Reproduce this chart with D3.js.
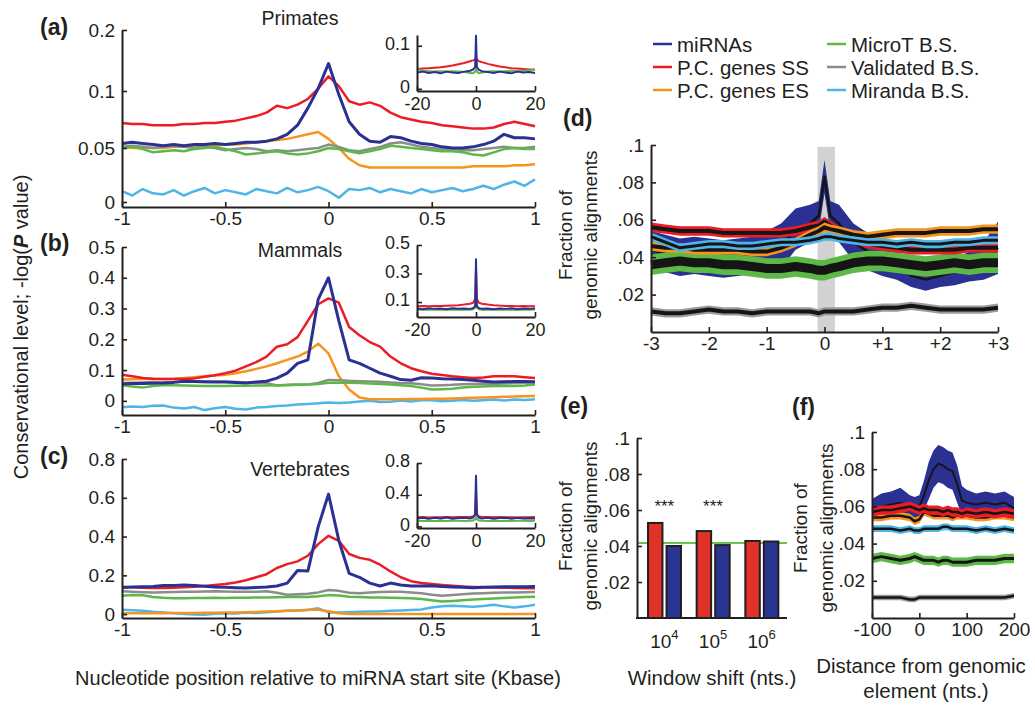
<!DOCTYPE html>
<html>
<head>
<meta charset="utf-8">
<script src="https://cdn.jsdelivr.net/npm/d3@7"></script>
<style>
  body { margin: 0; background: #fff; }
</style>
</head>
<body>
<svg id="chart" width="1035" height="712"></svg>
<script>
var svg = d3.select("#chart");
var FONT = "'Liberation Sans', Arial, Helvetica, sans-serif";
var INK = "#231f20";

// ---------------- data ----------------
var seriesKeys = ["mi", "ss", "es", "mt", "va", "mr"];
var seriesNames = ["miRNAs", "P.C. genes SS", "P.C. genes ES", "MicroT B.S.", "Validated B.S.", "Miranda B.S."];
var colors = { mi: "#2b3192", ss: "#ec1c24", es: "#f7941d", mt: "#5cb946", va: "#8c8c8c", mr: "#4fb4e6" };

// panels a-c: position relative to miRNA start (Kbase)
var posKb = [-1,-0.95,-0.9,-0.85,-0.8,-0.75,-0.7,-0.65,-0.6,-0.55,-0.5,-0.45,-0.4,-0.35,-0.3,-0.25,-0.2,-0.15,-0.1,-0.05,
             0,0.05,0.1,0.15,0.2,0.25,0.3,0.35,0.4,0.45,0.5,0.55,0.6,0.65,0.7,0.75,0.8,0.85,0.9,0.95,1];

// (a) Primates
var primSS = [.072,.071,.071,.070,.070,.070,.071,.071,.072,.072,.073,.074,.076,.078,.081,.087,.085,.088,.093,.104,
              .124,.108,.091,.088,.090,.087,.081,.077,.075,.073,.072,.070,.069,.068,.067,.067,.068,.071,.073,.071,.069];
var primMi = [.054,.055,.054,.053,.052,.053,.052,.053,.053,.054,.053,.054,.055,.055,.056,.058,.062,.070,.085,.104,
              .145,.097,.073,.062,.056,.055,.060,.059,.056,.054,.053,.051,.050,.050,.051,.053,.056,.062,.059,.059,.058];
var primES = [.051,.050,.050,.050,.050,.051,.051,.051,.052,.052,.053,.053,.054,.055,.056,.057,.058,.060,.062,.064,
              .058,.050,.040,.034,.032,.032,.032,.032,.032,.032,.032,.032,.032,.032,.033,.033,.033,.033,.034,.034,.035];
var primVa = [.051,.052,.051,.050,.051,.052,.051,.050,.051,.050,.048,.049,.050,.049,.047,.048,.047,.048,.049,.050,
              .053,.051,.048,.047,.049,.051,.054,.055,.053,.051,.050,.049,.049,.048,.048,.049,.050,.051,.050,.050,.051];
var primMT = [.050,.051,.049,.046,.047,.048,.047,.049,.050,.051,.049,.047,.044,.045,.046,.047,.045,.044,.045,.047,
              .050,.049,.047,.045,.047,.049,.052,.051,.050,.049,.048,.047,.047,.046,.044,.043,.046,.049,.050,.049,.049];
var primMr = [.010,.006,.012,.008,.007,.011,.006,.010,.013,.008,.011,.009,.007,.012,.010,.008,.013,.009,.011,.014,
              .010,.004,.012,.011,.013,.009,.012,.010,.008,.012,.009,.011,.013,.010,.012,.015,.012,.016,.019,.015,.021];

// (b) Mammals
var mammSS = [.085,.080,.074,.072,.071,.071,.071,.073,.078,.083,.090,.098,.112,.126,.144,.176,.184,.207,.260,.314,
              .333,.319,.240,.213,.191,.176,.144,.122,.106,.096,.088,.084,.080,.077,.074,.076,.080,.080,.080,.077,.074];
var mammMi = [.055,.056,.056,.057,.058,.060,.064,.063,.062,.061,.061,.060,.058,.061,.064,.074,.090,.122,.133,.330,
              .400,.260,.133,.122,.106,.090,.080,.069,.067,.075,.074,.072,.071,.069,.067,.064,.061,.062,.063,.063,.062];
var mammES = [.069,.070,.071,.071,.071,.072,.074,.077,.080,.082,.085,.090,.096,.104,.112,.122,.133,.144,.160,.186,
              .154,.080,.037,.011,.005,.005,.005,.005,.006,.006,.007,.007,.008,.009,.010,.011,.012,.013,.014,.015,.016];
var mammVa = [.058,.059,.060,.061,.060,.061,.062,.062,.061,.062,.062,.061,.060,.059,.058,.050,.052,.053,.053,.058,
              .068,.067,.065,.064,.063,.062,.060,.058,.057,.054,.050,.051,.052,.054,.055,.055,.055,.056,.058,.059,.060];
var mammMT = [.051,.047,.043,.048,.051,.051,.050,.049,.048,.048,.048,.049,.049,.050,.050,.051,.051,.052,.053,.055,
              .059,.059,.059,.058,.056,.055,.053,.051,.048,.043,.037,.038,.039,.043,.046,.047,.048,.048,.048,.050,.053];
var mammMr = [-.021,-.018,-.020,-.016,-.015,-.022,-.025,-.020,-.030,-.024,-.020,-.026,-.028,-.022,-.020,-.017,-.015,-.012,-.010,-.008,
              -.005,-.007,-.005,-.002,.000,-.004,-.003,.001,-.002,.002,.002,-.001,.000,.003,.000,.002,.004,.001,.004,.003,.005];

// (c) Vertebrates
var vertSS = [.140,.138,.136,.135,.135,.136,.138,.141,.145,.150,.155,.163,.175,.190,.206,.238,.258,.272,.301,.361,
              .404,.378,.310,.290,.280,.255,.220,.190,.170,.160,.155,.150,.146,.142,.140,.138,.137,.136,.135,.134,.133];
var vertMi = [.137,.140,.141,.143,.147,.148,.150,.148,.144,.140,.138,.136,.135,.137,.140,.145,.160,.225,.222,.450,
              .619,.380,.210,.190,.160,.145,.160,.150,.145,.145,.146,.143,.140,.138,.136,.138,.140,.141,.141,.141,.142];
var vertES = [.005,.005,.005,.005,.005,.006,.006,.006,.007,.007,.008,.009,.010,.011,.013,.015,.017,.019,.022,.022,
              .015,.004,.001,.000,.000,.000,.000,.000,.000,.000,.000,.000,.000,.000,.000,.000,.000,.000,.000,.000,.000];
var vertVa = [.118,.115,.113,.112,.113,.114,.115,.116,.117,.118,.117,.116,.115,.116,.118,.110,.100,.102,.105,.112,
              .124,.120,.110,.108,.112,.114,.115,.115,.112,.108,.100,.095,.098,.102,.106,.108,.110,.111,.112,.113,.114];
var vertMT = [.095,.098,.097,.088,.084,.082,.082,.083,.083,.084,.083,.084,.085,.086,.086,.087,.088,.090,.088,.092,
              .098,.096,.090,.088,.086,.086,.085,.083,.082,.078,.072,.065,.068,.072,.075,.078,.080,.083,.086,.088,.090];
var vertMr = [.022,.020,.017,.012,.009,.004,.000,-.002,-.003,.002,.005,.003,.008,.006,.010,.014,.017,.019,.021,.030,
              .009,.008,.010,.012,.014,.013,.017,.019,.021,.024,.034,.040,.043,.041,.038,.042,.048,.040,.034,.040,.048];

// insets: position in Kbase, wide view
var insetKb = [-20,-18,-16,-14,-12,-10,-8,-6,-4,-2,-1,-0.3,0,0.3,1,2,4,6,8,10,12,14,16,18,20];
var insPrimSS = [.046,.047,.048,.049,.050,.052,.054,.057,.060,.064,.066,.068,.072,.068,.064,.062,.058,.055,.052,.050,.048,.047,.046,.045,.045];
var insPrimMi = [.038,.040,.037,.039,.036,.040,.038,.037,.040,.042,.045,.050,.123,.050,.044,.041,.039,.037,.040,.038,.036,.040,.038,.039,.037];
var insPrimMT = [.046,.042,.041,.040,.041,.040,.041,.040,.039,.037,.036,.040,.045,.040,.036,.038,.040,.041,.040,.041,.042,.041,.042,.043,.044];
var insMammSS = [.070,.072,.071,.073,.072,.074,.076,.078,.082,.088,.095,.120,.330,.120,.095,.088,.082,.078,.075,.073,.072,.071,.072,.070,.071];
var insMammMi = [.055,.050,.056,.052,.054,.050,.056,.053,.055,.052,.056,.070,.400,.070,.056,.052,.054,.050,.055,.052,.056,.050,.054,.052,.055];
var insMammMT = [.048,.046,.047,.045,.046,.047,.045,.046,.047,.046,.050,.060,.090,.060,.050,.046,.047,.045,.046,.047,.045,.046,.047,.046,.048];
var insVertSS = [.115,.118,.114,.117,.115,.118,.116,.119,.120,.122,.125,.150,.420,.150,.125,.121,.119,.117,.118,.115,.117,.114,.116,.115,.118];
var insVertMi = [.100,.110,.095,.108,.100,.112,.098,.105,.110,.100,.112,.150,.640,.150,.110,.100,.108,.098,.105,.110,.098,.108,.100,.104,.100];
var insVertMT = [.070,.068,.072,.069,.071,.068,.070,.072,.069,.071,.075,.090,.120,.090,.075,.070,.068,.071,.069,.072,.068,.070,.071,.069,.070];

// (d) fraction of genomic alignments vs position
var shiftX = [-3,-2.75,-2.5,-2.25,-2,-1.75,-1.5,-1.25,-1,-0.75,-0.5,-0.25,-0.1,0,0.1,0.25,0.5,0.75,1,1.25,1.5,1.75,2,2.25,2.5,2.75,3];
var dMi    = [.044,.042,.040,.041,.040,.039,.040,.041,.042,.046,.055,.058,.062,.083,.062,.058,.048,.043,.040,.036,.030,.028,.030,.032,.035,.038,.045];
var dMiErr = [.010,.010,.010,.010,.010,.010,.010,.010,.012,.012,.011,.010,.008,.009,.008,.010,.010,.010,.010,.008,.006,.006,.006,.007,.008,.010,.014];
var dSS = [.056,.055,.054,.054,.054,.053,.053,.053,.053,.053,.054,.056,.057,.059,.057,.054,.050,.047,.046,.045,.044,.044,.044,.044,.045,.045,.045];
var dES = [.046,.045,.045,.044,.044,.044,.044,.043,.043,.045,.048,.052,.054,.056,.055,.054,.052,.051,.052,.053,.053,.053,.054,.054,.054,.055,.055];
var dMr = [.051,.048,.045,.046,.047,.047,.046,.046,.047,.048,.048,.049,.050,.051,.051,.050,.049,.048,.048,.047,.048,.047,.047,.048,.048,.049,.049];
var dMT = [.036,.037,.038,.037,.037,.036,.036,.035,.034,.034,.035,.034,.033,.033,.034,.035,.037,.038,.038,.037,.036,.035,.036,.037,.036,.037,.037];
var dVa = [.011,.010,.010,.011,.012,.011,.011,.010,.011,.011,.011,.011,.010,.011,.011,.011,.011,.012,.013,.013,.014,.013,.012,.012,.012,.012,.013];
var dErr = { ss: .0025, es: .0025, mr: .0022, mt: .0055, va: .0022 };
var dShade = [-0.12, 0.18];

// (e) window shift bars
var winGroups = ["4", "5", "6"];
var winSS = [.0528, .0483, .0428];
var winMi = [.0400, .0405, .0425];
var winStars = ["***", "***", ""];
var winBase = .0417;

// (f) distance from genomic element (nts.)
var distNt = [-100,-80,-60,-40,-20,-10,0,10,20,30,40,50,60,70,80,90,100,120,140,160,180,200];
var fMi    = [.058,.060,.061,.062,.060,.059,.060,.066,.074,.080,.083,.082,.080,.079,.072,.063,.062,.061,.062,.061,.062,.059];
var fMiErr = [.006,.007,.007,.008,.006,.006,.006,.008,.010,.010,.010,.010,.010,.010,.010,.008,.007,.006,.006,.006,.006,.006];
var fSS = [.057,.058,.058,.059,.060,.059,.058,.059,.058,.058,.058,.057,.058,.057,.057,.056,.057,.056,.057,.056,.057,.056];
var fES = [.054,.054,.055,.055,.054,.052,.053,.057,.056,.055,.055,.055,.055,.054,.055,.055,.055,.054,.054,.055,.055,.054];
var fMr = [.048,.048,.048,.047,.048,.047,.047,.048,.048,.048,.048,.049,.049,.048,.048,.048,.048,.047,.048,.047,.048,.047];
var fMT = [.032,.033,.032,.031,.032,.033,.032,.031,.031,.031,.030,.031,.031,.030,.030,.030,.030,.031,.031,.031,.032,.032];
var fVa = [.011,.011,.011,.011,.010,.010,.011,.011,.011,.011,.011,.011,.011,.011,.011,.011,.011,.011,.011,.011,.011,.012];
var fErr = { ss: .0025, es: .002, mr: .0018, mt: .0025, va: .0015 };

// ---------------- helpers ----------------
function label(g, x, y, s, size, anchor, weight) {
    return g.append("text")
        .attr("x", x).attr("y", y)
        .attr("font-family", FONT).attr("font-size", size)
        .attr("font-weight", weight || "normal")
        .attr("text-anchor", anchor || "middle")
        .attr("dominant-baseline", "central")
        .attr("fill", INK)
        .text(s);
}

function vlabel(x, y, s, size) {
    return svg.append("text")
        .attr("transform", "translate(" + x + "," + y + ") rotate(-90)")
        .attr("text-anchor", "middle").attr("dominant-baseline", "central")
        .attr("font-family", FONT).attr("font-size", size).attr("fill", INK)
        .text(s);
}

function axes(g, x, y, xt, yt, xf, yf, fs) {
    fs = fs || 19;
    var ax = g.append("g")
        .attr("transform", "translate(0," + y.range()[0] + ")")
        .call(d3.axisBottom(x).tickValues(xt).tickFormat(xf)
            .tickSizeInner(-5).tickSizeOuter(0).tickPadding(5));
    var ay = g.append("g")
        .attr("transform", "translate(" + x.range()[0] + ",0)")
        .call(d3.axisLeft(y).tickValues(yt).tickFormat(yf)
            .tickSizeInner(-5).tickSizeOuter(0).tickPadding(7));
    [ax, ay].forEach(function(a) {
        a.select(".domain").attr("stroke", INK).attr("stroke-width", 2);
        a.selectAll(".tick line").attr("stroke", INK).attr("stroke-width", 1.6);
        a.selectAll("text").attr("font-family", FONT).attr("font-size", fs).attr("fill", INK);
    });
    return { x: ax, y: ay };
}

function curve(g, x, y, xs, vals, color, w) {
    g.append("path")
        .datum(d3.zip(xs, vals))
        .attr("d", d3.line().x(function(d) { return x(d[0]); }).y(function(d) { return y(d[1]); }))
        .attr("fill", "none")
        .attr("stroke", color)
        .attr("stroke-width", w)
        .attr("stroke-linejoin", "round");
}

function band(g, x, y, xs, mid, err, color, coreW) {
    var pts = xs.map(function(v, i) {
        return { x: v, m: mid[i], e: Array.isArray(err) ? err[i] : err };
    });
    g.append("path").datum(pts)
        .attr("d", d3.area()
            .x(function(d) { return x(d.x); })
            .y0(function(d) { return y(d.m - d.e); })
            .y1(function(d) { return y(d.m + d.e); }))
        .attr("fill", color);
    g.append("path").datum(pts)
        .attr("d", d3.line().x(function(d) { return x(d.x); }).y(function(d) { return y(d.m); }))
        .attr("fill", "none").attr("stroke", "#151515")
        .attr("stroke-width", coreW).attr("stroke-linejoin", "round");
}

// ---------------- panels a-c ----------------
var mainX = d3.scaleLinear().domain([-1, 1]).range([122, 535]);
var insX = d3.scaleLinear().domain([-20, 20]).range([417, 535]);

var panels = [
    { tag: "(a)", tagY: 27, title: "Primates", titleY: 18,
      y: d3.scaleLinear().domain([-0.005, 0, 0.05, 0.1, 0.2]).range([207, 202, 148, 91, 30]),
      yTicks: [0, 0.05, 0.1, 0.2],
      s: { mi: primMi, ss: primSS, es: primES, mt: primMT, va: primVa, mr: primMr },
      iy: d3.scaleLinear().domain([-0.005, 0.125]).range([91, 35]), iTicks: [0, 0.1],
      ins: { ss: insPrimSS, mt: insPrimMT, mi: insPrimMi } },
    { tag: "(b)", tagY: 243, title: "Mammals", titleY: 250,
      y: d3.scaleLinear().domain([-0.046, 0.5]).range([415, 247]),
      yTicks: [0, 0.1, 0.2, 0.3, 0.4, 0.5],
      s: { mi: mammMi, ss: mammSS, es: mammES, mt: mammMT, va: mammVa, mr: mammMr },
      iy: d3.scaleLinear().domain([-0.005, 0.5]).range([317, 245]), iTicks: [0.1, 0.3, 0.5],
      ins: { ss: insMammSS, mt: insMammMT, mi: insMammMi } },
    { tag: "(c)", tagY: 456, title: "Vertebrates", titleY: 469,
      y: d3.scaleLinear().domain([-0.02, 0.8]).range([618, 459]),
      yTicks: [0, 0.2, 0.4, 0.6, 0.8],
      s: { mi: vertMi, ss: vertSS, es: vertES, mt: vertMT, va: vertVa, mr: vertMr },
      iy: d3.scaleLinear().domain([-0.02, 0.8]).range([528, 463]), iTicks: [0, 0.4, 0.8],
      ins: { ss: insVertSS, mt: insVertMT, mi: insVertMi } }
];

panels.forEach(function(p) {
    var g = svg.append("g");
    ["mr", "es", "va", "mt", "ss", "mi"].forEach(function(k) {
        curve(g, mainX, p.y, posKb, p.s[k], colors[k], k === "mi" ? 3 : 2.5);
    });
    axes(g, mainX, p.y, [-1, -0.5, 0, 0.5, 1], p.yTicks, String, String);
    label(g, 300, p.titleY, p.title, 19.5);
    label(g, 40, p.tagY, p.tag, 23, "start", "bold");

    var gi = svg.append("g");
    ["ss", "mt", "mi"].forEach(function(k) {
        curve(gi, insX, p.iy, insetKb, p.ins[k], colors[k], 2);
    });
    var ia = axes(gi, insX, p.iy, [-20, 0, 20], p.iTicks, String, String, 18);
    ia.x.selectAll("text").attr("dy", "0.8em");
    ia.y.selectAll("text").attr("dy", "0.2em");
});

var yl = svg.append("text")
    .attr("transform", "translate(21,327) rotate(-90)")
    .attr("text-anchor", "middle").attr("dominant-baseline", "central")
    .attr("font-family", FONT).attr("font-size", 20).attr("fill", INK);
yl.append("tspan").text("Conservational level; -log(");
yl.append("tspan").attr("font-weight", "bold").attr("font-style", "italic").text("P");
yl.append("tspan").text(" value)");

label(svg, 318, 678, "Nucleotide position relative to miRNA start site (Kbase)", 20);

// ---------------- legend ----------------
seriesKeys.forEach(function(k, i) {
    var lx = [653, 827][Math.floor(i / 3)], ly = 44 + (i % 3) * 23;
    svg.append("line").attr("x1", lx).attr("x2", lx + 19).attr("y1", ly).attr("y2", ly)
        .attr("stroke", colors[k]).attr("stroke-width", 2.5);
    label(svg, lx + 24, ly, seriesNames[i], 20.5, "start");
});

// ---------------- panel d ----------------
var fracFmt = function(d) { return String(d).replace("0.", "."); };
var dX = d3.scaleLinear().domain([-3, 3]).range([651, 998]);
var dY = d3.scaleLinear().domain([0, 0.1]).range([332, 145]);
var gd = svg.append("g");
gd.append("rect")
    .attr("x", dX(dShade[0])).attr("width", dX(dShade[1]) - dX(dShade[0]))
    .attr("y", dY(0.099)).attr("height", dY(0) - dY(0.099))
    .attr("fill", "#d2d2d2");
band(gd, dX, dY, shiftX, dMi, dMiErr, colors.mi, 2.5);
band(gd, dX, dY, shiftX, dMT, dErr.mt, colors.mt, 9);
band(gd, dX, dY, shiftX, dVa, dErr.va, "#9a9a9a", 4);
band(gd, dX, dY, shiftX, dSS, dErr.ss, colors.ss, 4);
band(gd, dX, dY, shiftX, dES, dErr.es, colors.es, 4);
band(gd, dX, dY, shiftX, dMr, dErr.mr, colors.mr, 3);
axes(gd, dX, dY, [-3, -2, -1, 0, 1, 2, 3], [0.02, 0.04, 0.06, 0.08, 0.1],
    function(d) { return d > 0 ? "+" + d : String(d); }, fracFmt);
label(svg, 563, 118, "(d)", 23, "start", "bold");
vlabel(565, 235, "Fraction of", 19);
vlabel(590, 235, "genomic alignments", 19);

// ---------------- panel e ----------------
var eY = d3.scaleLinear().domain([0, 0.1]).range([618, 438]);
var eX0 = d3.scaleBand().domain(winGroups).range([640, 786]);
var eX1 = d3.scaleBand().domain(["ss", "mi"]).range([8, 41]).paddingInner(0.22);
var ge = svg.append("g");
ge.append("line").attr("x1", 637).attr("x2", 787)
    .attr("y1", eY(winBase)).attr("y2", eY(winBase))
    .attr("stroke", "#6cc24a").attr("stroke-width", 2);
winGroups.forEach(function(grp, i) {
    [["ss", winSS[i]], ["mi", winMi[i]]].forEach(function(b) {
        ge.append("rect")
            .attr("x", eX0(grp) + eX1(b[0])).attr("width", eX1.bandwidth())
            .attr("y", eY(b[1])).attr("height", eY(0) - eY(b[1]))
            .attr("fill", b[0] === "ss" ? "#e03228" : "#283593")
            .attr("stroke", INK).attr("stroke-width", 2);
    });
    label(ge, eX0(grp) + eX0.bandwidth() / 2, eY(0.062), winStars[i], 17);
    var t = ge.append("text")
        .attr("x", eX0(grp) + eX0.bandwidth() / 2).attr("y", 648)
        .attr("text-anchor", "middle").attr("font-family", FONT)
        .attr("font-size", 19).attr("fill", INK).text("10");
    t.append("tspan").attr("dy", -9).attr("font-size", 13).text(grp);
});
var eAy = ge.append("g").attr("transform", "translate(637,0)")
    .call(d3.axisLeft(eY).tickValues([0.02, 0.04, 0.06, 0.08, 0.1]).tickFormat(fracFmt)
        .tickSizeInner(-5).tickSizeOuter(0).tickPadding(7));
eAy.select(".domain").attr("stroke", INK).attr("stroke-width", 2);
eAy.selectAll(".tick line").attr("stroke", INK).attr("stroke-width", 1.6);
eAy.selectAll("text").attr("font-family", FONT).attr("font-size", 19).attr("fill", INK);
ge.append("line").attr("x1", 636).attr("x2", 787).attr("y1", eY(0)).attr("y2", eY(0))
    .attr("stroke", INK).attr("stroke-width", 2);
label(svg, 560, 406, "(e)", 23, "start", "bold");
vlabel(565, 526, "Fraction of", 19);
vlabel(590, 526, "genomic alignments", 19);
label(svg, 712, 677, "Window shift (nts.)", 20.5);

// ---------------- panel f ----------------
var fX = d3.scaleLinear().domain([-100, 200]).range([872, 1014]);
var fY = d3.scaleLinear().domain([0, 0.1]).range([618, 432]);
var gf = svg.append("g");
band(gf, fX, fY, distNt, fMi, fMiErr, colors.mi, 2);
band(gf, fX, fY, distNt, fVa, fErr.va, "#9a9a9a", 2.5);
band(gf, fX, fY, distNt, fMT, fErr.mt, colors.mt, 3);
band(gf, fX, fY, distNt, fMr, fErr.mr, colors.mr, 2.5);
band(gf, fX, fY, distNt, fES, fErr.es, colors.es, 2.5);
band(gf, fX, fY, distNt, fSS, fErr.ss, colors.ss, 2.5);
axes(gf, fX, fY, [-100, 0, 100, 200], [0.02, 0.04, 0.06, 0.08, 0.1], String, fracFmt);
label(svg, 792, 407, "(f)", 23, "start", "bold");
vlabel(800, 528, "Fraction of", 19);
vlabel(826, 528, "genomic alignments", 19);
label(svg, 921, 665, "Distance from genomic", 20.5);
label(svg, 926, 690, "element (nts.)", 20.5);
</script>
</body>
</html>
